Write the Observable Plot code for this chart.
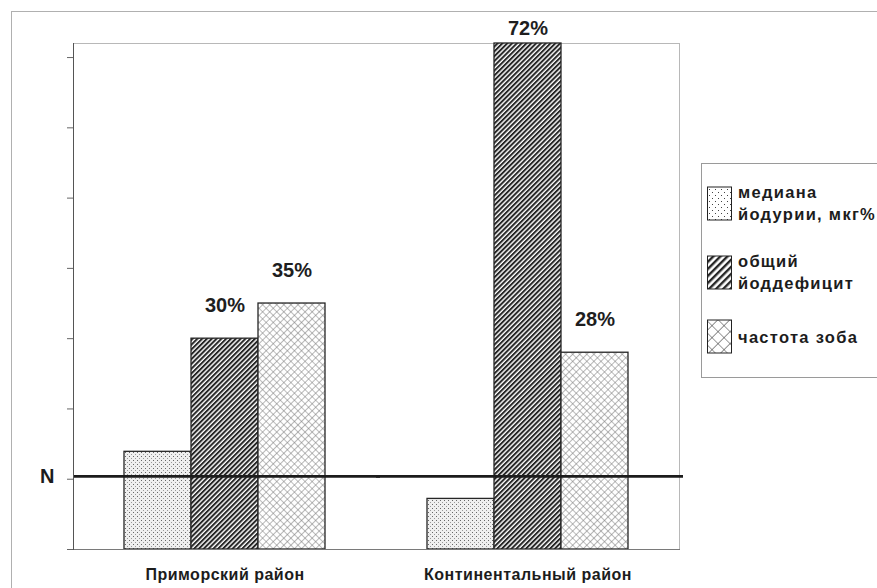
<!DOCTYPE html>
<html>
<head>
<meta charset="utf-8">
<script src="https://cdn.jsdelivr.net/npm/d3@7"></script>
<script src="https://cdn.jsdelivr.net/npm/@observablehq/plot@0.6"></script>
<style>
  html, body { margin: 0; padding: 0; background: #fff; overflow: hidden; }
  #page { position: relative; width: 877px; height: 588px; font-family: "Liberation Sans", Arial, sans-serif; color: #1c1c1c; }
  #border { position: absolute; left: 11px; top: 11px; width: 900px; height: 600px; border: 1px solid #b0b0b0; }
  #chart { position: absolute; left: 0; top: 0; }
  #chart g[aria-label="fx-axis tick label"] text { letter-spacing: 0.5px; }
  #legend { position: absolute; left: 701px; top: 163px; width: 190px; height: 213px; border: 1px solid #9a9a9a; background: #fff; }
  #legend .item { position: absolute; left: 4px; display: flex; align-items: center; }
  #legend .item svg { flex: none; display: block; }
  #legend .txt { margin-left: 6px; font-weight: bold; font-size: 16.5px; line-height: 22px; letter-spacing: 1.3px; color: #1c1c1c; }
</style>
</head>
<body>
<div id="page">
  <div id="border"></div>
  <div id="chart"></div>
  <div id="legend"></div>
</div>
<script>
// Regions and series
const regions = ["Приморский район", "Континентальный район"];
const seriesNames = ["медиана йодурии, мкг%", "общий йоддефицит", "частота зоба"];
const legendLines = [["медиана", "йодурии, мкг%"], ["общий", "йоддефицит"], ["частота зоба"]];

// Values per region (same order as regions)
const medianIoduria = [13.9, 7.2];
const iodineDeficit = [30, 72];
const goiterRate = [35, 28];

// Norm level for the median ioduria and its label
const normLevel = 10.4;
const normLabel = "N";

// Value axis ticks (unlabelled)
const yTicks = [0, 10, 20, 30, 40, 50, 60, 70];

// Long table for the bars
const rows = regions.flatMap((region, i) => [
  {region, series: seriesNames[0], value: medianIoduria[i], label: null},
  {region, series: seriesNames[1], value: iodineDeficit[i], label: iodineDeficit[i] + "%"},
  {region, series: seriesNames[2], value: goiterRate[i], label: goiterRate[i] + "%"}
]);

const patternIds = ["pat-dots", "pat-hatch", "pat-cross"];

const valueLabels = rows.filter(d => d.label).map(d =>
  Plot.text([d], {
    fx: "region", x: "series", y: "value", text: "label",
    lineAnchor: "bottom", dy: d.value > 65 ? -9 : -27,
    fontSize: 20, fontWeight: "bold", fill: "#1e1e1e"
  })
);

const svg = Plot.plot({
  width: 877,
  height: 588,
  marginLeft: 72,
  marginRight: 198,
  marginTop: 43,
  marginBottom: 39,
  style: {fontFamily: "'Liberation Sans', Arial, sans-serif", background: "transparent", overflow: "visible", color: "#1c1c1c"},
  fx: {domain: regions, padding: 0, label: null},
  x: {domain: seriesNames, paddingInner: 0, paddingOuter: 0.74, axis: null},
  y: {domain: [0, 72]},
  color: {domain: seriesNames, range: patternIds.map(id => `url(#${id})`)},
  marks: [
    Plot.frame({anchor: "top", stroke: "#b8b8b8", strokeDasharray: "2,1"}),
    Plot.frame({anchor: "right", facetAnchor: "right", stroke: "#b8b8b8", strokeDasharray: "2,1"}),
    Plot.barY(rows, {fx: "region", x: "series", y: "value", fill: "series", stroke: "#262626", strokeWidth: 1.3}),
    Plot.ruleY([normLevel], {stroke: "#1c1c1c", strokeWidth: 2.6, insetRight: -4}),
    Plot.frame({anchor: "bottom", stroke: "#7a7a7a"}),
    Plot.frame({anchor: "left", facetAnchor: "left", stroke: "#555"}),
    Plot.axisY({ticks: yTicks, tickSize: 6, tickFormat: () => "", label: null, stroke: "#666"}),
    Plot.axisFx({anchor: "bottom", tickSize: 0, tickPadding: 19, label: null, fontSize: 16, fontWeight: "bold", fill: "#1c1c1c"}),
    ...valueLabels,
    Plot.text([{region: regions[0], label: normLabel}], {
      fx: "region", y: () => normLevel, text: "label",
      frameAnchor: "left", textAnchor: "end", dx: -19,
      fontSize: 20, fontWeight: "bold", fill: "#1c1c1c"
    })
  ]
});

// Fill patterns for the bars (big = coarser variant for legend swatches)
function addPatterns(sel, ids, big) {
  const defs = sel.insert("defs", ":first-child");
  // dotted
  const s1 = big ? 6 : 4;
  const p1 = defs.append("pattern").attr("id", ids[0]).attr("patternUnits", "userSpaceOnUse")
    .attr("width", s1).attr("height", s1);
  p1.append("rect").attr("width", s1).attr("height", s1).attr("fill", big ? "#fff" : "#efefef");
  p1.append("rect").attr("x", 0).attr("y", 0).attr("width", 1).attr("height", 1).attr("fill", big ? "#444" : "#666");
  p1.append("rect").attr("x", s1 / 2).attr("y", s1 / 2).attr("width", 1).attr("height", 1).attr("fill", big ? "#444" : "#999");
  // diagonal hatch
  const s2 = big ? 5 : 3.4;
  const p2 = defs.append("pattern").attr("id", ids[1]).attr("patternUnits", "userSpaceOnUse")
    .attr("width", s2).attr("height", s2).attr("patternTransform", "rotate(45)");
  p2.append("rect").attr("width", s2).attr("height", s2).attr("fill", "#fff");
  p2.append("rect").attr("width", big ? 2.4 : 2.0).attr("height", s2).attr("fill", "#262626");
  // diamond cross-hatch
  const s3 = big ? 8.5 : 5;
  const p3 = defs.append("pattern").attr("id", ids[2]).attr("patternUnits", "userSpaceOnUse")
    .attr("width", s3).attr("height", s3).attr("patternTransform", "rotate(45)");
  p3.append("rect").attr("width", s3).attr("height", s3).attr("fill", "#fff");
  p3.append("path").attr("d", `M0,0H${s3}M0,0V${s3}`).attr("stroke", big ? "#333" : "#7c7c7c").attr("stroke-width", 1.1).attr("fill", "none");
}
addPatterns(d3.select(svg), patternIds, false);
document.getElementById("chart").appendChild(svg);

// Legend
const legend = d3.select("#legend");
seriesNames.forEach((s, i) => {
  const item = legend.append("div").attr("class", "item").style("top", (17 + i * 69) + "px");
  const sw = item.append("svg").attr("width", 26).attr("height", 35);
  const ids = patternIds.map(id => `lg-${id}-${i}`);
  addPatterns(sw, ids, true);
  sw.append("rect").attr("x", 1.5).attr("y", 1).attr("width", 24).attr("height", 33)
    .attr("fill", `url(#${ids[i]})`).attr("stroke", "#222").attr("stroke-width", 1);
  const txt = item.append("div").attr("class", "txt");
  legendLines[i].forEach(line => txt.append("div").text(line));
});
</script>
</body>
</html>
